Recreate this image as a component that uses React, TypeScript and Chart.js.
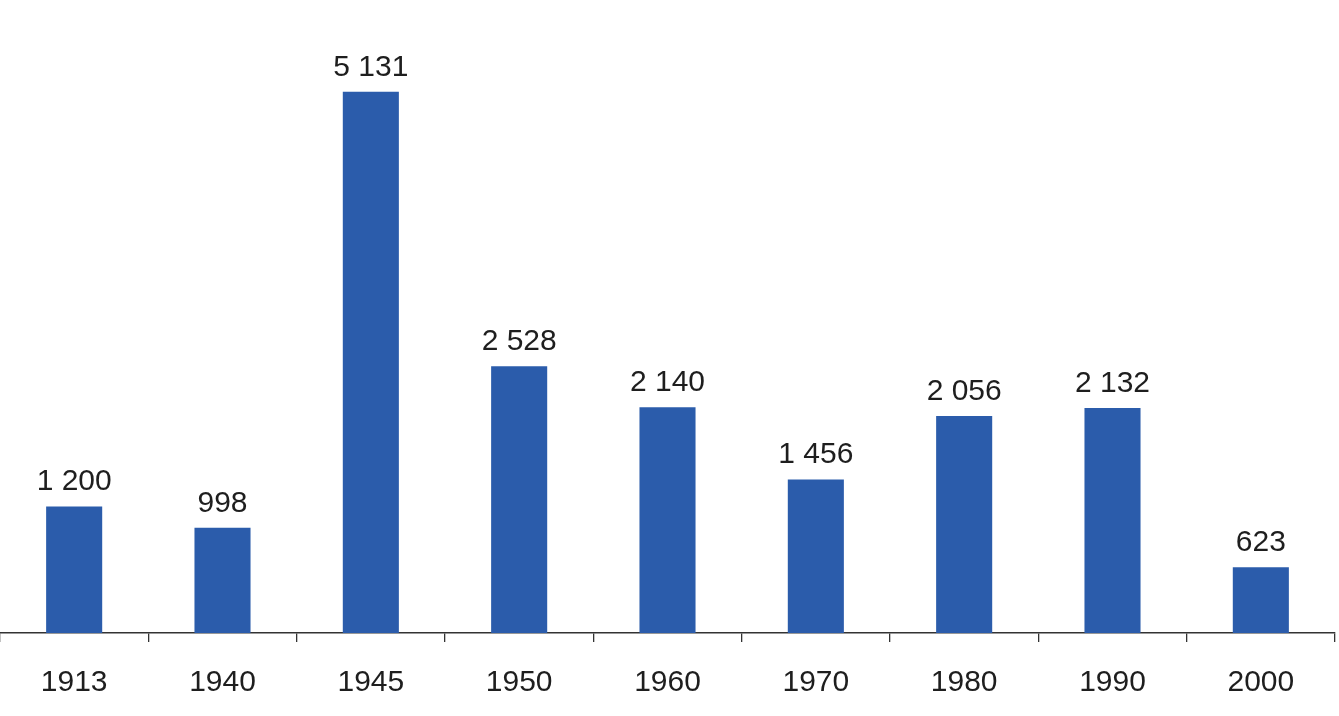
import React, { useEffect, useRef } from "react";
import { Chart, registerables } from "chart.js";

Chart.register(...registerables);

const categories = ["1913", "1940", "1945", "1950", "1960", "1970", "1980", "1990", "2000"];
const values = [1200, 998, 5131, 2528, 2140, 1456, 2056, 2132, 623];
const valueLabels = ["1 200", "998", "5 131", "2 528", "2 140", "1 456", "2 056", "2 132", "623"];

const BAR_COLOR = "#2b5cab";
const TEXT_COLOR = "#1e1e1e";
const FONT = "'Liberation Sans', Arial, sans-serif";

const valueLabelPlugin = {
  id: "valueLabels",
  afterDatasetsDraw(chart: any) {
    const ctx = chart.ctx;
    const meta = chart.getDatasetMeta(0);
    ctx.save();
    ctx.fillStyle = TEXT_COLOR;
    ctx.font = `30px ${FONT}`;
    ctx.textAlign = "center";
    ctx.textBaseline = "alphabetic";
    meta.data.forEach((bar: any, i: number) => {
      ctx.fillText(valueLabels[i], bar.x, bar.y - 16);
    });
    ctx.restore();
  },
};

export default function App() {
  const ref = useRef<HTMLCanvasElement | null>(null);
  useEffect(() => {
    document.body.style.margin = "0";
    const chart = new Chart(ref.current as HTMLCanvasElement, {
      type: "bar",
      data: {
        labels: categories,
        datasets: [
          {
            data: values,
            backgroundColor: BAR_COLOR,
            borderWidth: 0,
            barPercentage: 0.378,
            categoryPercentage: 1,
          },
        ],
      },
      options: {
        animation: false,
        responsive: false,
        maintainAspectRatio: false,
        layout: { padding: { left: 0, right: 4, top: 0, bottom: -8 } },
        plugins: { legend: { display: false }, tooltip: { enabled: false } },
        scales: {
          x: {
            offset: true,
            grid: {
              offset: true,
              drawOnChartArea: false,
              drawTicks: true,
              tickLength: 9,
              color: "#333",
              lineWidth: 1.3,
            },
            border: { display: true, color: "#333", width: 1.5 },
            ticks: {
              color: TEXT_COLOR,
              font: { family: FONT, size: 30 },
              padding: 23,
            },
          },
          y: {
            display: false,
            min: 0,
            max: 6000,
          },
        },
      },
      plugins: [valueLabelPlugin],
    });
    return () => chart.destroy();
  }, []);
  return (
    <div style={{ width: 1339, height: 716, background: "#fff" }}>
      <canvas ref={ref} width={1339} height={716} style={{ display: "block" }} />
    </div>
  );
}
